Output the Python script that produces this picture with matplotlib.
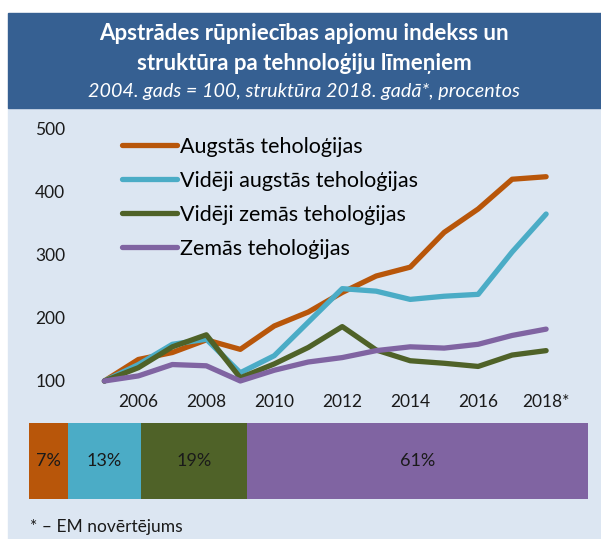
import matplotlib.pyplot as plt
from matplotlib.patches import Rectangle

plt.rcParams["font.family"] = ["Lato", "DejaVu Sans"]

years = list(range(2005, 2019))
high_tech = [100, 134, 145, 165, 150, 187, 209, 240, 266, 280, 335, 372, 419, 423]
med_high_tech = [100, 126, 158, 166, 113, 140, 193, 246, 242, 229, 234, 237, 304, 364]
med_low_tech = [100, 121, 154, 173, 105, 127, 153, 186, 149, 132, 128, 123, 141, 148]
low_tech = [100, 108, 126, 124, 100, 117, 130, 137, 148, 154, 152, 158, 172, 182]

series_names = [
    "Augstās teholoģijas",
    "Vidēji augstās teholoģijas",
    "Vidēji zemās teholoģijas",
    "Zemās teholoģijas",
]
colors = ["#b8560a", "#4bacc6", "#4f6228", "#8064a2"]

shares = [7, 13, 19, 61]
share_labels = ["7%", "13%", "19%", "61%"]

xtick_years = [2006, 2008, 2010, 2012, 2014, 2016, 2018]
xtick_labels = ["2006", "2008", "2010", "2012", "2014", "2016", "2018*"]
ytick_vals = [100, 200, 300, 400, 500]

W, H = 601, 539
fig = plt.figure(figsize=(W / 100, H / 100), dpi=100)

# background panels
fig.patches.append(Rectangle((8 / W, 0), 1 - 8 / W, 1 - 108 / H,
                             transform=fig.transFigure, color="#dce6f2", zorder=-5))
fig.patches.append(Rectangle((8 / W, 1 - 108 / H), 1 - 8 / W, 95 / H,
                             transform=fig.transFigure, color="#366092", zorder=-5))

cx = 304 / W
fig.text(cx, 1 - 34 / H, "Apstrādes rūpniecības apjomu indekss un",
         ha="center", va="center", color="white", fontsize=16, fontweight="bold")
fig.text(cx, 1 - 64 / H, "struktūra pa tehnoloģiju līmeņiem",
         ha="center", va="center", color="white", fontsize=16, fontweight="bold")
fig.text(cx, 1 - 92 / H, "2004. gads = 100, struktūra 2018. gadā*, procentos",
         ha="center", va="center", color="white", fontsize=14.2, style="italic")

# line chart
ax = fig.add_axes([87.4 / W, 1 - 387.3 / H, (566.5 - 87.4) / W, (387.3 - 121.7) / H])
ax.set_facecolor("none")
for name, vals, c in zip(series_names, [high_tech, med_high_tech, med_low_tech, low_tech], colors):
    ax.plot(years, vals, color=c, linewidth=3.8, label=name, solid_capstyle="round")
ax.set_xlim(2004.5, 2018.6)
ax.set_ylim(90, 510)
ax.set_yticks(ytick_vals)
ax.set_yticklabels([str(v) for v in ytick_vals])
ax.set_xticks(xtick_years)
ax.set_xticklabels(xtick_labels)
ax.tick_params(length=0, labelsize=12.5, colors="#1a1a1a")
ax.tick_params(axis="y", pad=16)
ax.tick_params(axis="x", pad=5)
for s in ax.spines.values():
    s.set_visible(False)

ax.legend(loc="upper left", bbox_to_anchor=(122 / W, 1 - 137 / H),
          bbox_transform=fig.transFigure, frameon=False, fontsize=15.5,
          handlelength=2.55, handletextpad=0.15, labelspacing=0.65,
          borderpad=0, borderaxespad=0)

# structure bar
bx = fig.add_axes([29 / W, 1 - 499 / H, 559 / W, 76 / H])
left = 0
for val, lab, c in zip(shares, share_labels, colors):
    bx.barh(0, val, left=left, height=1, color=c)
    bx.text(left + val / 2, 0, lab, ha="center", va="center", fontsize=13, color="#1a1a1a")
    left += val
bx.set_xlim(0, 100)
bx.set_ylim(-0.5, 0.5)
bx.axis("off")

fig.text(30 / W, 1 - 527 / H, "* – EM novērtējums", ha="left", va="center",
         fontsize=12.5, color="#1a1a1a")

fig.savefig("out.png", dpi=100)
